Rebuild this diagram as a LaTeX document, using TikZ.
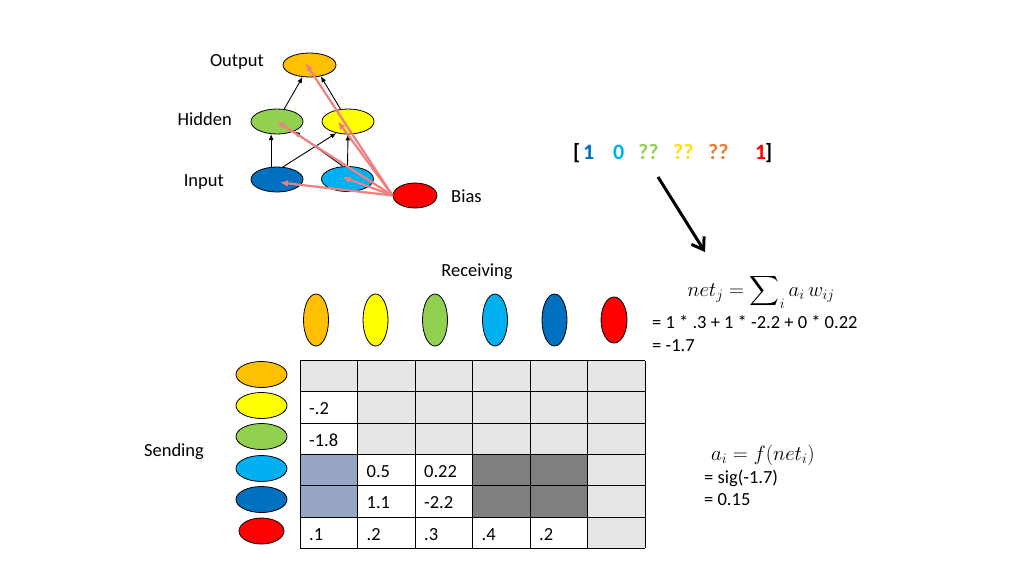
\documentclass[tikz,border=0pt]{standalone}
\usepackage{amsmath}
\usepackage{fontspec}
\setmainfont{Carlito}
\usetikzlibrary{shapes.geometric,arrows.meta}
\definecolor{uorange}{RGB}{255,192,0}
\definecolor{uyellow}{RGB}{255,255,0}
\definecolor{ugreen}{RGB}{146,208,80}
\definecolor{ulblue}{RGB}{0,176,240}
\definecolor{udblue}{RGB}{0,112,192}
\definecolor{ured}{RGB}{255,0,0}
\definecolor{qyellow}{RGB}{255,225,0}
\definecolor{qorange}{RGB}{237,125,49}
\definecolor{cellgray}{RGB}{231,230,230}
\definecolor{celldark}{RGB}{128,128,128}
\definecolor{cellblue}{RGB}{150,166,195}
\definecolor{pinklink}{RGB}{240,128,128}
\begin{document}
\begin{tikzpicture}[x=1pt,y=-1pt,
    unit/.style={ellipse, draw=black, line width=0.8pt, inner sep=0pt, minimum width=52pt, minimum height=25pt},
    col/.style={ellipse, draw=black, line width=0.8pt, inner sep=0pt, minimum width=25pt, minimum height=52pt},
    lbl/.style={font=\fontsize{18.5}{22}\selectfont, inner sep=0pt},
    eq/.style={font=\fontsize{21.5}{26}\selectfont, inner sep=0pt},
    link/.style={-{Latex[length=6pt,width=5pt]}, line width=0.9pt},
    biaslink/.style={-{Latex[length=8pt,width=7pt]}, line width=2.2pt, draw=pinklink, color=pinklink}]
\useasboundingbox (0,0) rectangle (1024,576);
% network
\node[unit, fill=uorange, minimum width=53pt, minimum height=24pt] (out) at (309.5,65) {};
\node[unit, fill=ugreen] (hida) at (277,121.5) {};
\node[unit, fill=uyellow] (hidb) at (348,121.5) {};
\node[unit, fill=udblue] (ina) at (277,179.5) {};
\node[unit, fill=ulblue] (inb) at (347.5,179) {};
\node[unit, fill=ured, minimum width=44pt] (bias) at (415,195.5) {};
\node[lbl, anchor=east] (outlbl) at (264,62) {Output};
\node[lbl, anchor=east] (hidlbl) at (232,119) {Hidden};
\node[lbl, anchor=east] (inlbl) at (224,182) {Input};
\node[lbl, anchor=west] (biaslbl) at (451,196) {Bias};
\draw[link] (hida) -- (out.240);
\draw[link] (hidb) -- (out.-45);
\draw[link] (ina.115) -- (hida.245);
\draw[link] (inb.north) -- (hidb.south);
\draw[link] (ina.65) -- (hidb.225);
\draw[link] (inb.110) -- (hida.-30);
\draw[biaslink] (bias.west) -- ([xshift=-4pt,yshift=2pt]out.center);
\draw[biaslink] (bias.west) -- (hida.center);
\draw[biaslink] (bias.west) -- ([xshift=-10pt]hidb.center);
\draw[biaslink] (bias.west) -- ([xshift=3pt,yshift=-3pt]ina.center);
\draw[biaslink] (bias.west) -- ([xshift=-5pt,yshift=2pt]inb.center);
% activation vector
\foreach \x/\c/\t/\n in {573/black/[/va, 583/udblue/1/vb, 613/ulblue/0/vc, 638/ugreen/??/vd,
    673/qyellow/??/ve, 708/qorange/??/vf, 755/ured/1/vg, 765/black/]/vh}
  \node[anchor=base west, inner sep=0pt, text=\c, font=\fontsize{22}{26}\selectfont\bfseries] (\n) at (\x,159.5) {\t};
\coordinate (arrs) at (658,177);
\coordinate (arre) at (705,252);
\draw[-{Straight Barb[length=11pt,width=15pt]}, line width=3pt] (arrs) -- (arre);
% equations
\node[eq, anchor=base] (neteq) at (761,296) {$\displaystyle net_j = \sum\nolimits_i a_i\, w_{ij}$};
\node[lbl, anchor=west] (netsum) at (652,322) {= 1 * .3 + 1 * -2.2 + 0 * 0.22};
\node[lbl, anchor=west] (netval) at (652,346) {= -1.7};
\node[eq, anchor=west] (acteq) at (711,455) {$a_i = f(net_i)$};
\node[lbl, anchor=west] (actsig) at (704,478) {= sig(-1.7)};
\node[lbl, anchor=west] (actval) at (704,500) {= 0.15};
% weight matrix
\node[lbl] (recv) at (477,272) {Receiving};
\node[lbl] (send) at (174,452) {Sending};
\foreach \x/\c/\n in {316/uorange/ra, 375.5/uyellow/rb, 435/ugreen/rc, 495/ulblue/rd, 554.5/udblue/re}
  \node[col, fill=\c] (\n) at (\x,320) {};
\node[col, fill=ured, minimum width=26pt, minimum height=46pt] (rf) at (614,320) {};
\foreach \y/\c/\n in {374.5/uorange/sa, 405.5/uyellow/sb, 436.5/ugreen/sc, 468.5/ulblue/sd, 499.5/udblue/se}
  \node[unit, fill=\c, minimum width=51pt, minimum height=26pt] (\n) at (261.5,\y) {};
\node[unit, fill=ured, minimum width=45pt, minimum height=26pt] (sf) at (261.5,531) {};
\fill[cellgray] (300,360.7) rectangle (645,548.3);
\foreach \c/\r in {0/1, 0/2, 1/3, 2/3, 1/4, 2/4, 0/5, 1/5, 2/5, 3/5, 4/5}
  \fill[white] ({300+57.5*\c},{360.7+31.27*\r}) rectangle ++(57.5,31.27);
\foreach \c/\r in {0/3, 0/4}
  \fill[cellblue] ({300+57.5*\c},{360.7+31.27*\r}) rectangle ++(57.5,31.27);
\foreach \c/\r in {3/3, 4/3, 3/4, 4/4}
  \fill[celldark] ({300+57.5*\c},{360.7+31.27*\r}) rectangle ++(57.5,31.27);
\foreach \i in {0,...,6} {
  \draw[line width=1pt] ({300+57.5*\i},360.7) -- ({300+57.5*\i},548.3);
  \draw[line width=1pt] (300,{360.7+31.27*\i}) -- (645,{360.7+31.27*\i});
}
\foreach \c/\r/\v in {0/1/-.2, 0/2/-1.8, 1/3/0.5, 2/3/0.22, 1/4/1.1, 2/4/-2.2,
    0/5/.1, 1/5/.2, 2/5/.3, 3/5/.4, 4/5/.2}
  \node[lbl, anchor=base west] (w\c\r) at ({309+57.5*\c},{383.7+31.27*\r}) {\v};
\end{tikzpicture}
\end{document}
